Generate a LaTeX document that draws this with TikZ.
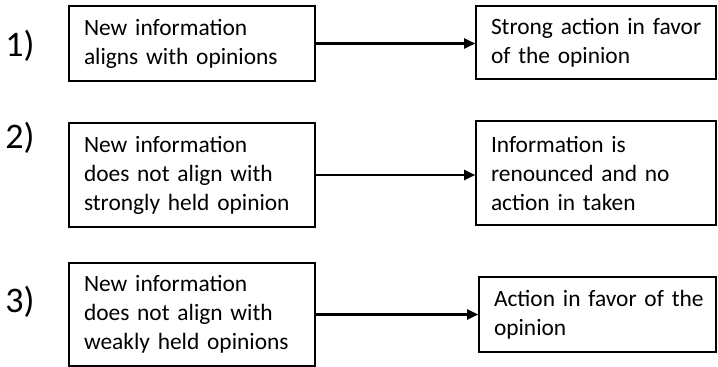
\documentclass[tikz,border=0pt]{standalone}
\usepackage{fontspec}
\setmainfont{Carlito}
\usetikzlibrary{arrows.meta}
\begin{document}
\begin{tikzpicture}[x=1pt,y=-1pt,
  box/.style={draw=black, line width=1.6pt, rectangle, inner xsep=15pt, inner ysep=0pt,
    align=left, font=\fontsize{23.4}{29}\selectfont, text=black},
  num/.style={font=\fontsize{36}{40}\selectfont, text=black},
  conn/.style={line width=2.2pt, -{Triangle[length=11pt,width=10pt]}}]
\useasboundingbox (0,0) rectangle (718,367);
% row 1
\node[box, minimum width=246pt, minimum height=75pt, text width=216pt] (L1) at (192,43.5)
  {\mbox{New information}\\\mbox{aligns with opinions}};
\node[box, minimum width=240pt, minimum height=73pt, text width=210pt] (R1) at (596,42.5)
  {\mbox{Strong action in favor}\\\mbox{of the opinion}};
% row 2
\node[box, minimum width=246pt, minimum height=104pt, text width=216pt] (L2) at (192,175)
  {\mbox{New information}\\\mbox{does not align with}\\\mbox{strongly held opinion}};
\node[box, minimum width=240pt, minimum height=104pt, text width=210pt] (R2) at (596,173)
  {\mbox{Information is}\\\mbox{renounced and no}\\\mbox{action in taken}};
% row 3
\node[box, minimum width=246pt, minimum height=103pt, text width=216pt] (L3) at (192,314.5)
  {\mbox{New information}\\\mbox{does not align with}\\\mbox{weakly held opinions}};
\node[box, minimum width=237pt, minimum height=75pt, text width=207pt] (R3) at (597.5,314.5)
  {\mbox{Action in favor of the}\\\mbox{opinion}};
% numbers
\node[num] (n1) at (20,46) {1)};
\node[num] (n2) at (20,138) {2)};
\node[num] (n3) at (20,302) {3)};
% connectors
\draw[conn] (L1.east) -- (L1.east -| R1.west);
\draw[conn] (L2.east) -- (L2.east -| R2.west);
\draw[conn] (L3.east) -- (L3.east -| R3.west);
\end{tikzpicture}
\end{document}
